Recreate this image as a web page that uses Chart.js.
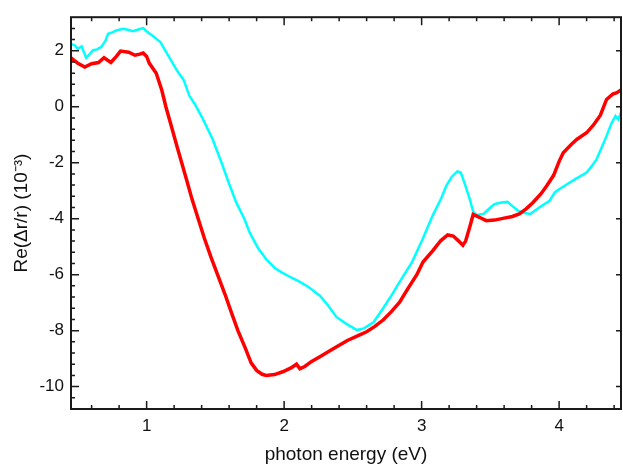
<!DOCTYPE html>
<html>
<head>
<meta charset="utf-8">
<script src="https://cdn.jsdelivr.net/npm/chart.js@4.4.0/dist/chart.umd.min.js"></script>
<style>
html, body { margin: 0; padding: 0; background: #fff; }
#wrap { width: 623px; height: 466px; position: relative; }
</style>
</head>
<body>
<div id="wrap"><canvas id="myChart"></canvas></div>
<script>
// photon energy (eV) and Re(dr/r) (1e-3)
const redEnergy = [0.45, 0.50, 0.55, 0.60, 0.65, 0.69, 0.74, 0.78, 0.81, 0.87, 0.915, 0.95, 0.975, 1.00, 1.02, 1.07, 1.11, 1.14, 1.18, 1.22, 1.255, 1.29, 1.33, 1.375, 1.42, 1.47, 1.52, 1.57, 1.62, 1.664, 1.72, 1.76, 1.80, 1.84, 1.87, 1.93, 1.99, 2.05, 2.09, 2.115, 2.15, 2.20, 2.26, 2.36, 2.46, 2.55, 2.60, 2.66, 2.72, 2.78, 2.84, 2.90, 2.965, 3.01, 3.08, 3.14, 3.19, 3.23, 3.27, 3.30, 3.32, 3.35, 3.375, 3.42, 3.47, 3.53, 3.60, 3.66, 3.71, 3.76, 3.81, 3.87, 3.91, 3.96, 4.00, 4.03, 4.09, 4.13, 4.20, 4.25, 4.30, 4.345, 4.39, 4.42, 4.45];
const redSignal = [1.75, 1.55, 1.42, 1.54, 1.58, 1.75, 1.58, 1.80, 1.99, 1.95, 1.84, 1.88, 1.92, 1.80, 1.55, 1.20, 0.60, 0.00, -0.70, -1.40, -2.00, -2.60, -3.30, -4.00, -4.70, -5.40, -6.05, -6.70, -7.40, -8.00, -8.65, -9.15, -9.42, -9.56, -9.60, -9.57, -9.47, -9.33, -9.20, -9.36, -9.28, -9.10, -8.93, -8.64, -8.35, -8.15, -8.04, -7.85, -7.62, -7.32, -6.98, -6.50, -6.00, -5.55, -5.15, -4.78, -4.58, -4.62, -4.80, -4.95, -4.80, -4.30, -3.85, -3.95, -4.07, -4.05, -3.98, -3.92, -3.83, -3.65, -3.42, -3.10, -2.82, -2.45, -1.95, -1.64, -1.34, -1.16, -0.93, -0.65, -0.30, 0.26, 0.45, 0.50, 0.60];

const cyanEnergy = [0.45, 0.48, 0.50, 0.527, 0.56, 0.58, 0.61, 0.64, 0.67, 0.70, 0.72, 0.75, 0.78, 0.83, 0.87, 0.90, 0.94, 0.975, 1.00, 1.04, 1.10, 1.17, 1.22, 1.27, 1.31, 1.35, 1.40, 1.44, 1.48, 1.545, 1.60, 1.65, 1.71, 1.75, 1.81, 1.87, 1.93, 1.97, 2.05, 2.115, 2.18, 2.26, 2.32, 2.38, 2.45, 2.53, 2.58, 2.65, 2.72, 2.78, 2.84, 2.93, 3.01, 3.08, 3.14, 3.18, 3.22, 3.26, 3.285, 3.31, 3.35, 3.375, 3.40, 3.45, 3.50, 3.53, 3.58, 3.625, 3.66, 3.70, 3.75, 3.79, 3.85, 3.93, 3.97, 4.00, 4.06, 4.13, 4.20, 4.24, 4.27, 4.31, 4.345, 4.38, 4.41, 4.43, 4.45];
const cyanSignal = [2.25, 2.18, 2.07, 2.16, 1.75, 1.85, 2.02, 2.05, 2.14, 2.35, 2.61, 2.66, 2.73, 2.79, 2.74, 2.70, 2.76, 2.81, 2.70, 2.55, 2.31, 1.72, 1.30, 0.95, 0.40, 0.10, -0.35, -0.75, -1.16, -2.00, -2.75, -3.40, -4.00, -4.50, -5.05, -5.45, -5.75, -5.88, -6.10, -6.26, -6.45, -6.75, -7.10, -7.51, -7.75, -7.98, -7.92, -7.70, -7.20, -6.75, -6.26, -5.55, -4.70, -3.89, -3.30, -2.82, -2.50, -2.31, -2.35, -2.70, -3.30, -3.75, -3.87, -3.83, -3.60, -3.48, -3.42, -3.40, -3.55, -3.71, -3.80, -3.83, -3.62, -3.36, -3.05, -2.95, -2.76, -2.55, -2.35, -2.10, -1.90, -1.45, -1.04, -0.60, -0.33, -0.45, -0.20];

const xTickLabels = [1, 2, 3, 4];
const yTickLabels = [-10, -8, -6, -4, -2, 0, 2];

function toPoints(xs, ys) {
    return xs.map((x, i) => ({ x: x, y: ys[i] }));
}

function stepTicks(scale, step) {
    const ticks = [];
    const start = Math.ceil(scale.min / step - 1e-6);
    for (let k = start; k * step <= scale.max + 1e-6; k++) {
        ticks.push({ value: Math.round(k * step * 1000) / 1000 });
    }
    scale.ticks = ticks;
}

// box frame with inward ticks
const framePlugin = {
    id: 'frame',
    afterDatasetsDraw(chart) {
        const { ctx, chartArea: a, scales } = chart;
        ctx.save();
        ctx.strokeStyle = '#1a1a1a';
        ctx.lineWidth = 2;
        ctx.strokeRect(a.left, a.top, a.right - a.left, a.bottom - a.top);
        ctx.lineWidth = 1.5;
        ctx.beginPath();
        scales.x.ticks.forEach(t => {
            const px = scales.x.getPixelForValue(t.value);
            if (px <= a.left + 2 || px >= a.right - 2) return;
            const len = xTickLabels.includes(t.value) ? 8 : 4;
            ctx.moveTo(px, a.bottom); ctx.lineTo(px, a.bottom - len);
            ctx.moveTo(px, a.top); ctx.lineTo(px, a.top + len);
        });
        scales.y.ticks.forEach(t => {
            const py = scales.y.getPixelForValue(t.value);
            if (py <= a.top + 2 || py >= a.bottom - 2) return;
            const major = yTickLabels.includes(t.value);
            ctx.moveTo(a.left, py); ctx.lineTo(a.left + (major ? 8 : 4), py);
            if (major) { ctx.moveTo(a.right, py); ctx.lineTo(a.right - 5, py); }
        });
        ctx.stroke();
        ctx.restore();
    }
};

const ctx = document.getElementById('myChart');
const font = 'Liberation Sans, Arial, sans-serif';

new Chart(ctx, {
    type: 'scatter',
    data: {
        datasets: [{
            label: 'red',
            data: toPoints(redEnergy, redSignal),
            showLine: true,
            borderColor: '#ff0000',
            borderWidth: 3.5,
            pointRadius: 0,
            tension: 0
        }, {
            label: 'cyan',
            data: toPoints(cyanEnergy, cyanSignal),
            showLine: true,
            borderColor: '#00ffff',
            borderWidth: 2.5,
            pointRadius: 0,
            tension: 0
        }]
    },
    plugins: [framePlugin],
    options: {
        responsive: true,
        maintainAspectRatio: false,
        animation: false,
        layout: { padding: { top: 14, right: 2, left: 0, bottom: 0 } },
        plugins: {
            legend: { display: false },
            tooltip: { enabled: false }
        },
        scales: {
            x: {
                type: 'linear',
                min: 0.45,
                max: 4.45,
                afterBuildTicks: s => stepTicks(s, 0.2),
                afterFit: s => { s.height = 57; },
                grid: { display: false, drawTicks: false },
                border: { display: false },
                ticks: {
                    autoSkip: false,
                    maxRotation: 0,
                    padding: 7,
                    color: '#111',
                    font: { family: font, size: 17 },
                    callback: v => xTickLabels.includes(v) ? String(v) : ''
                },
                title: {
                    display: true,
                    text: 'photon energy (eV)',
                    color: '#111',
                    padding: { top: 0, bottom: 0 },
                    font: { family: font, size: 19 }
                }
            },
            y: {
                type: 'linear',
                min: -10.8,
                max: 3.2,
                afterBuildTicks: s => stepTicks(s, 0.4),
                afterFit: s => { s.width = 71; },
                grid: { display: false, drawTicks: false },
                border: { display: false },
                ticks: {
                    autoSkip: false,
                    padding: 7,
                    color: '#111',
                    font: { family: font, size: 17 },
                    callback: v => yTickLabels.includes(v) ? String(v) : ''
                },
                title: {
                    display: true,
                    text: 'Re(\u0394r/r) (10\u207B\u00B3)',
                    color: '#111',
                    padding: { top: 10, bottom: 0 },
                    font: { family: font, size: 19 }
                }
            }
        }
    }
});
</script>
</body>
</html>
